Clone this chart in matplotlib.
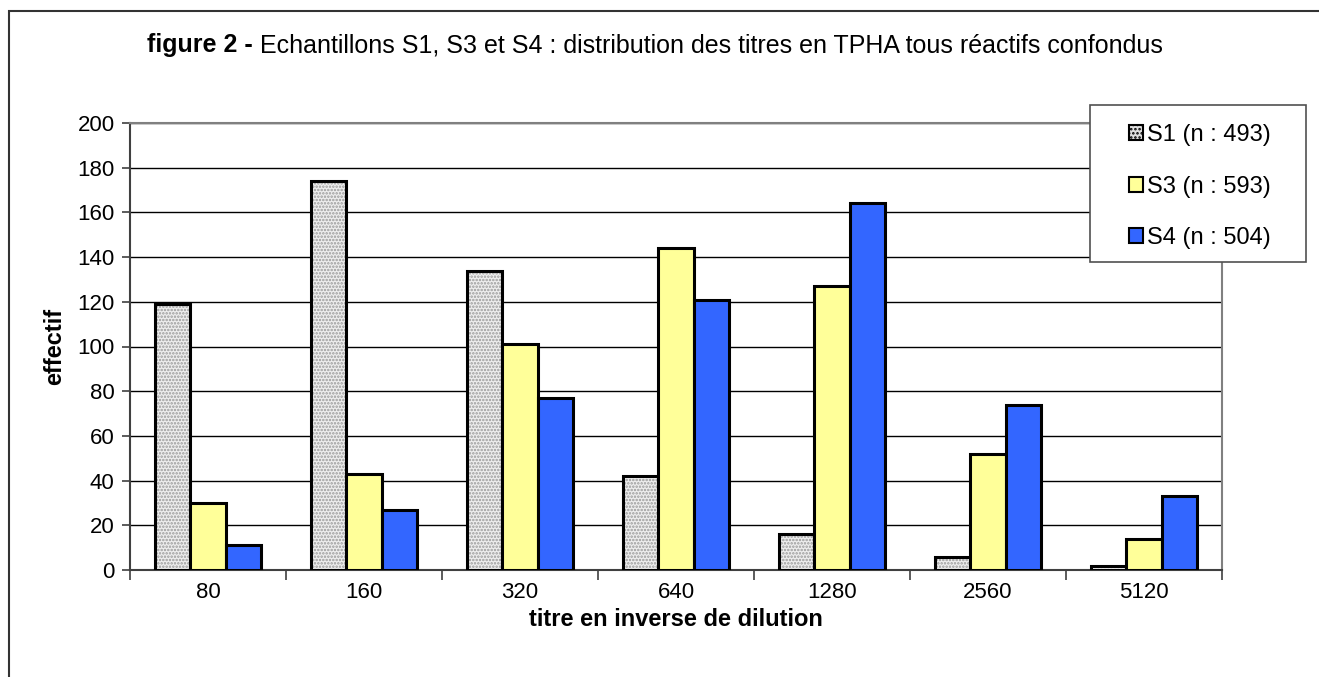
import matplotlib
matplotlib.use("Agg")
import matplotlib.pyplot as plt
from matplotlib.patches import Rectangle, Patch
import numpy as np

plt.rcParams['font.family'] = ['Liberation Sans', 'DejaVu Sans']
plt.rcParams['hatch.linewidth'] = 1.2

titres = ["80", "160", "320", "640", "1280", "2560", "5120"]
s1 = [119, 174, 134, 42, 16, 6, 2]
s3 = [30, 43, 101, 144, 127, 52, 14]
s4 = [11, 27, 77, 121, 164, 74, 33]
labels = ["S1 (n : 493)", "S3 (n : 593)", "S4 (n : 504)"]

fig = plt.figure(figsize=(13.19, 6.77), dpi=100)
ax = fig.add_axes([130/1319, 1-570/677, (1222-130)/1319, (570-123)/677])

x = np.arange(len(titres))
w = 0.225

# S1: grey dotted fill, then black outline on top
ax.bar(x - w, s1, w, color="#eeeeee", edgecolor="#9a9a9a", hatch=".....", linewidth=0, zorder=3)
ax.bar(x - w, s1, w, fill=False, edgecolor="black", linewidth=2.2, zorder=4)
ax.bar(x, s3, w, color="#FFFF99", edgecolor="black", linewidth=2.2, zorder=4)
ax.bar(x + w, s4, w, color="#3366FF", edgecolor="black", linewidth=2.2, zorder=4)

ax.set_xlim(-0.5, len(titres) - 0.5)
ax.set_ylim(0, 200)
ax.set_yticks(range(0, 201, 20))
ax.yaxis.grid(True, color="black", linewidth=1)
ax.set_axisbelow(True)

ax.set_xticks(x)
ax.set_xticklabels(titres)
ax.set_xticks(np.arange(-0.5, len(titres)), minor=True)
ax.tick_params(axis="x", which="major", length=0, pad=9, labelsize=16)
ax.tick_params(axis="x", which="minor", length=7, width=1.2, color="#404040")
ax.tick_params(axis="y", length=6, width=1.2, color="#404040", labelsize=16, pad=5)

for side in ["left", "bottom"]:
    ax.spines[side].set_color("#404040")
    ax.spines[side].set_linewidth(1.5)
for side in ["top", "right"]:
    ax.spines[side].set_color("#808080")
    ax.spines[side].set_linewidth(1.5)

fig.text(55/1319, 1-346/677, "effectif", rotation=90, fontsize=17, fontweight="bold",
         ha="center", va="center")
fig.text(676/1319, 1-619/677, "titre en inverse de dilution", fontsize=17, fontweight="bold",
         ha="center", va="center")

# title: bold part then regular part right after it
t1 = fig.text(147/1319, 1-45/677, "figure 2 - ", fontsize=18, fontweight="bold", ha="left", va="center")
fig.canvas.draw()
bb = t1.get_window_extent()
fig.text(bb.x1/1319, 1-45/677, "Echantillons S1, S3 et S4 : distribution des titres en TPHA tous réactifs confondus",
         fontsize=18, ha="left", va="center")

# outer chart frame
fig.patches.append(Rectangle((9/1319, -0.2), 1.5, 0.2 + 1 - 11/677, transform=fig.transFigure,
                             fill=False, edgecolor="#333333", linewidth=1.5, zorder=0))

# legend box
fig.patches.append(Rectangle((1090/1319, 1-262/677), (1306-1090)/1319, (262-105)/677,
                             transform=fig.transFigure, facecolor="white", edgecolor="#505050",
                             linewidth=1.2, zorder=4))
handles = [
    Patch(facecolor="#e0e0e0", edgecolor="black", linewidth=1.5, hatch="...."),
    Patch(facecolor="#FFFF99", edgecolor="black", linewidth=1.5),
    Patch(facecolor="#3366FF", edgecolor="black", linewidth=1.5),
]
fig.legend(handles, labels, loc="upper left", bbox_to_anchor=(1108/1319, 1-103/677),
           frameon=False, fontsize=17, handlelength=0.6, handleheight=0.6, handletextpad=0.15,
           labelspacing=1.25)

fig.savefig("out.png", dpi=100)
